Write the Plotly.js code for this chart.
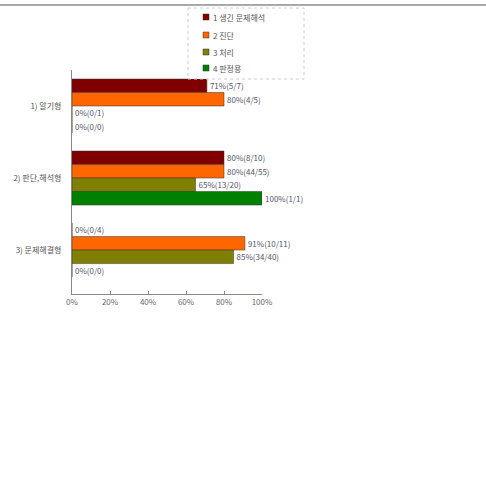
<!DOCTYPE html>
<html><head><meta charset="utf-8">
<script src="https://cdn.plot.ly/plotly-3.0.1.min.js"></script>
<style>
html,body{margin:0;padding:0;background:#fff;}
#topline{position:absolute;left:0;top:4px;width:486px;height:2px;background:#a8a8a8;}
#chart{position:absolute;left:0;top:0;width:486px;height:502px;}
</style></head>
<body>
<div id="chart"></div>
<div id="topline"></div>
<script>
const categories = ["1) 알기형", "2) 판단,해석형", "3) 문제해결형"];
const seriesNames = ["1 생긴 문제해석", "2 진단", "3 처리", "4 판정용"];
const seriesColors = ["#800000", "#ff6600", "#808000", "#008000"];
const pct1 = [71, 80, 0];  const num1 = [5, 8, 0];   const den1 = [7, 10, 4];
const pct2 = [80, 80, 91]; const num2 = [4, 44, 10]; const den2 = [5, 55, 11];
const pct3 = [0, 65, 85];  const num3 = [0, 13, 34]; const den3 = [1, 20, 40];
const pct4 = [0, 100, 0];  const num4 = [0, 1, 0];   const den4 = [0, 1, 0];
const xTicks = [0, 20, 40, 60, 80, 100];
const xTickText = ["0%", "20%", "40%", "60%", "80%", "100%"];

const pcts = [pct1, pct2, pct3, pct4];
const nums = [num1, num2, num3, num4];
const dens = [den1, den2, den3, den4];

const font = "Noto Sans CJK KR, Noto Sans, sans-serif";
const traces = pcts.map((p, i) => ({
  type: "bar", orientation: "h",
  name: seriesNames[i],
  y: categories, x: p,
  text: p.map((v, j) => v + "%(" + nums[i][j] + "/" + dens[i][j] + ")"),
  textposition: "outside", cliponaxis: false,
  textfont: {size: 8, color: "#556", family: font},
  marker: {color: seriesColors[i], line: {color: "#333", width: 0.5}}
}));

// plot area in pixels: x 72..262, y 70..294
const PX = (px) => (px - 72) / 190;
const PY = (py) => (294 - py) / 224;

const shapes = [{
  type: "rect", xref: "paper", yref: "paper",
  x0: PX(188), x1: PX(304), y0: PY(8), y1: PY(79),
  line: {color: "#ccc", width: 1, dash: "dot"}, fillcolor: "#fff", layer: "above"
}];
const annotations = [];
const legendY = [17, 35, 52, 68];
seriesNames.forEach((n, i) => {
  shapes.push({type: "rect", xref: "paper", yref: "paper",
    x0: PX(203), x1: PX(209), y0: PY(legendY[i] + 3), y1: PY(legendY[i] - 3),
    fillcolor: seriesColors[i], line: {color: "#333", width: 0.5}, layer: "above"});
  annotations.push({xref: "paper", yref: "paper", x: PX(211), y: PY(legendY[i]),
    xanchor: "left", yanchor: "middle", text: n, showarrow: false,
    font: {size: 8, color: "#555", family: font}});
});

const layout = {
  width: 486, height: 502,
  margin: {l: 72, r: 224, t: 70, b: 208},
  paper_bgcolor: "#fff", plot_bgcolor: "#fff",
  barmode: "group", bargap: 0.25, bargroupgap: 0,
  font: {family: font, size: 8, color: "#555"},
  xaxis: {range: [0, 100], tickvals: xTicks, ticktext: xTickText,
    showgrid: false, zeroline: false, showline: true, linecolor: "#888", linewidth: 1,
    ticks: "inside", ticklen: 3, tickcolor: "#888",
    tickfont: {size: 8, color: "#666"}},
  yaxis: {range: [2.61, -0.5], showgrid: false, zeroline: false,
    showline: true, linecolor: "#888", linewidth: 1, ticks: "", ticklabelstandoff: 8,
    tickfont: {size: 8, color: "#555"}},
  showlegend: false,
  shapes: shapes,
  annotations: annotations
};

Plotly.newPlot("chart", traces, layout, {displayModeBar: false, staticPlot: true});
</script>
</body></html>
